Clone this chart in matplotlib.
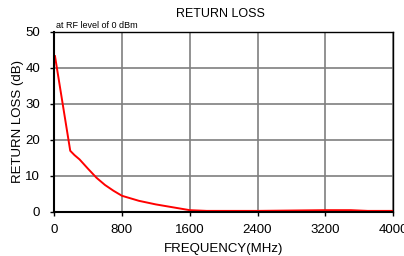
import matplotlib
matplotlib.use("Agg")
import matplotlib.pyplot as plt

plt.rcParams['font.family'] = ['Liberation Sans', 'DejaVu Sans']

freq_mhz = [10, 190, 240, 300, 400, 500, 600, 700, 800, 1000, 1200, 1400, 1600, 1800,
            2400, 2800, 3200, 3500, 3700, 4000]
return_loss_db = [43.3, 17.0, 15.8, 14.6, 12.0, 9.5, 7.5, 5.9, 4.5, 3.1, 2.1, 1.3, 0.5, 0.3,
                  0.3, 0.4, 0.5, 0.5, 0.3, 0.3]

x_ticks = [0, 800, 1600, 2400, 3200, 4000]
y_ticks = [0, 10, 20, 30, 40, 50]

fig = plt.figure(figsize=(4.04, 2.56), dpi=100)
ax = fig.add_axes([0.134, 0.172, 0.839, 0.703])

ax.plot(freq_mhz, return_loss_db, color='#ff0000', lw=1.4)

ax.set_xlim(0, 4000)
ax.set_ylim(0, 50)
ax.set_xticks(x_ticks)
ax.set_yticks(y_ticks)
ax.grid(True, color='#7f7f7f', lw=1.2)
ax.set_axisbelow(True)
ax.tick_params(labelsize=9.5, length=3, width=1)
ax.tick_params(axis='x', pad=6)
ax.tick_params(axis='y', pad=7)
for s in ax.spines.values():
    s.set_linewidth(1)
ax.spines['left'].set_linewidth(1.5)
ax.spines['bottom'].set_linewidth(1.5)

ax.set_xlabel("FREQUENCY(MHz)", fontsize=9.5, labelpad=5)
ax.set_ylabel("RETURN LOSS (dB)", fontsize=9.5, labelpad=1)
fig.text(0.545, 0.945, "RETURN LOSS", ha='center', va='center', fontsize=9)
ax.text(0.005, 1.01, "at RF level of 0 dBm", transform=ax.transAxes, fontsize=6.5,
        ha='left', va='bottom')

fig.savefig("out.png", dpi=100)
